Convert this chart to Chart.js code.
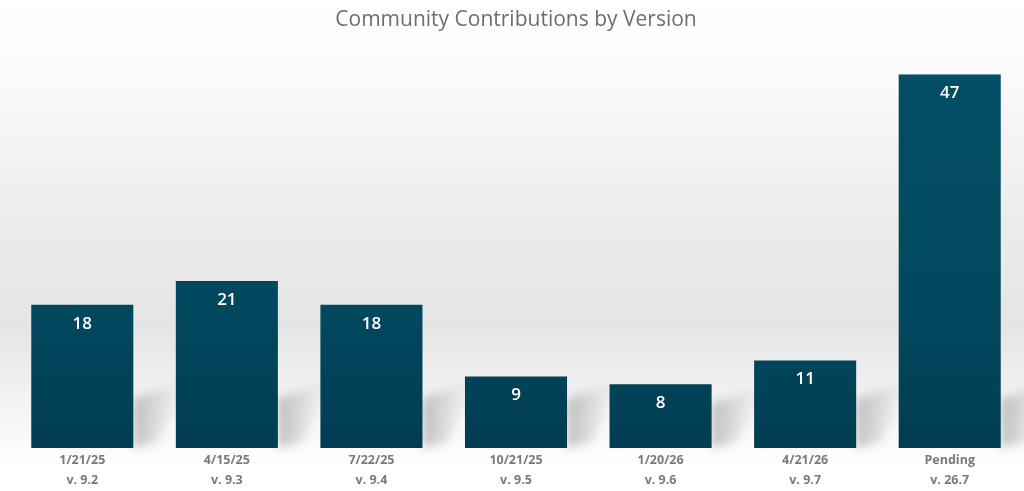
<!DOCTYPE html>
<html>
<head>
<meta charset="utf-8">
<script src="https://cdn.jsdelivr.net/npm/chart.js@4/dist/chart.umd.min.js"></script>
<style>
  html, body { margin: 0; padding: 0; }
  body {
    width: 1024px; height: 491px; overflow: hidden;
    background: linear-gradient(to bottom, #ffffff 0%, #fbfbfb 14%, #ececec 45%, #e5e5e5 66%, #f3f3f3 82%, #ffffff 95%);
  }
  #wrap { position: relative; width: 1024px; height: 491px; }
</style>
</head>
<body>
<div id="wrap"><canvas id="dataChart"></canvas></div>
<script>
// Datos del gráfico
const fechas = ['1/21/25', '4/15/25', '7/22/25', '10/21/25', '1/20/26', '4/21/26', 'Pending'];
const versiones = ['v. 9.2', 'v. 9.3', 'v. 9.4', 'v. 9.5', 'v. 9.6', 'v. 9.7', 'v. 26.7'];
const contribuciones = [18, 21, 18, 9, 8, 11, 47];

// Sombra suave a la derecha de cada barra
const sombraPlugin = {
    id: 'sombra',
    beforeDatasetsDraw(chart) {
        const ctx = chart.ctx;
        const meta = chart.getDatasetMeta(0);
        ctx.save();
        ctx.filter = 'blur(5px)';
        meta.data.forEach(bar => {
            const r = bar.x + bar.width / 2;
            const b = bar.base;
            const h = Math.min(b - bar.y, 70);
            const g = ctx.createLinearGradient(r, 0, r + 48, 0);
            g.addColorStop(0, 'rgba(120,120,120,0.45)');
            g.addColorStop(1, 'rgba(150,150,150,0)');
            ctx.fillStyle = g;
            ctx.beginPath();
            ctx.moveTo(r, b);
            ctx.lineTo(r, b - h * 0.7);
            ctx.lineTo(r + 50, b - h * 0.95);
            ctx.lineTo(r + 25, b - 6);
            ctx.closePath();
            ctx.fill();
        });
        ctx.restore();
    }
};

// Etiquetas de valor dentro de la barra
const valoresPlugin = {
    id: 'valores',
    afterDatasetsDraw(chart) {
        const ctx = chart.ctx;
        const meta = chart.getDatasetMeta(0);
        ctx.save();
        ctx.fillStyle = '#ffffff';
        ctx.font = '600 17px "Open Sans", sans-serif';
        ctx.textAlign = 'center';
        ctx.textBaseline = 'middle';
        meta.data.forEach((bar, i) => {
            ctx.fillText(String(contribuciones[i]), bar.x, bar.y + 19);
        });
        ctx.restore();
    }
};

function crearGrafico() {
    const canvas = document.getElementById('dataChart');
    const ctx = canvas.getContext('2d');
    const grad = ctx.createLinearGradient(0, 74, 0, 447);
    grad.addColorStop(0, '#034e65');
    grad.addColorStop(0.6, '#02495f');
    grad.addColorStop(1, '#013d52');

    window.currentChart = new Chart(ctx, {
        type: 'bar',
        data: {
            labels: fechas.map((f, i) => [f, versiones[i]]),
            datasets: [{
                data: contribuciones,
                backgroundColor: grad,
                borderWidth: 0,
                categoryPercentage: 1,
                barPercentage: 0.706
            }]
        },
        options: {
            responsive: true,
            maintainAspectRatio: false,
            animation: false,
            layout: { padding: { left: 10, right: 2, top: 0, bottom: -1 } },
            plugins: {
                legend: { display: false },
                tooltip: { enabled: false },
                title: {
                    display: true,
                    text: 'Community Contributions by Version',
                    color: '#6e6e6e',
                    font: { family: '"Open Sans", sans-serif', size: 21, weight: 'normal', lineHeight: 1.2 },
                    padding: { top: 7, bottom: 42 }
                }
            },
            scales: {
                x: {
                    grid: { display: false, drawTicks: false },
                    border: { display: false },
                    ticks: {
                        color: '#7a7a7a',
                        padding: 2,
                        font: { family: '"Open Sans", sans-serif', size: 12.5, weight: 'bold', lineHeight: 1.6 }
                    }
                },
                y: {
                    display: false,
                    beginAtZero: true,
                    min: 0,
                    max: 47
                }
            }
        },
        plugins: [sombraPlugin, valoresPlugin]
    });
}

window.addEventListener('load', crearGrafico);
</script>
</body>
</html>
